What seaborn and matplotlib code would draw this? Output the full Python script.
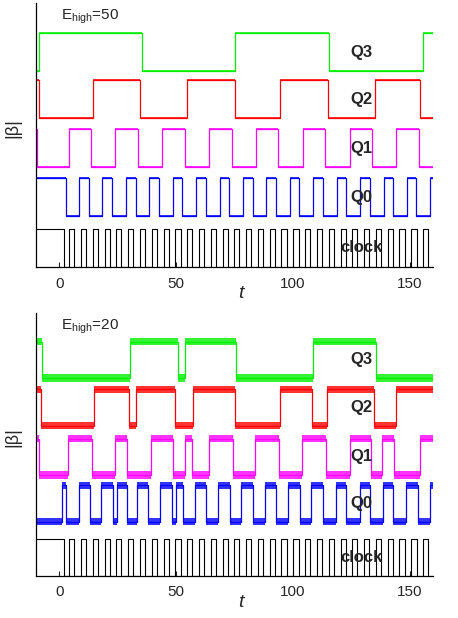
import pandas as pd
import seaborn as sns
import matplotlib.pyplot as plt

# --- Data: toggle times of each trace (t units) ---
T_START, T_END = -10, 160

# clock: high at start, falls once, then regular pulses
CLOCK_INIT = 1
CLOCK_FIRST_FALL = [2.1]
CLOCK_RISE = [4.2, 9.3, 14.3, 19.4, 24.4, 29.5, 34.5, 39.6, 44.6, 49.7, 54.7,
              59.8, 64.8, 69.9, 74.9, 80.0, 85.0, 90.1, 95.1, 100.2, 105.2,
              110.3, 115.3, 120.4, 125.4, 130.5, 135.5, 140.6, 145.6, 150.7, 155.7]
CLOCK_FALL = [6.4, 11.5, 16.5, 21.6, 26.6, 31.7, 36.7, 41.8, 46.8, 51.9, 56.9,
              62.0, 67.0, 72.1, 77.1, 82.2, 87.2, 92.3, 97.3, 102.4, 107.4,
              112.5, 117.5, 122.6, 127.6, 132.7, 137.7, 142.8, 147.8, 152.9, 157.9]

# E_high = 50
E50_INIT = {'Q0': 1, 'Q1': 1, 'Q2': 1, 'Q3': 0}
E50_Q0 = [2.9, 8.4, 12.5, 18.4, 22.5, 28.5, 32.6, 38.5, 42.6, 48.5, 52.6, 58.6,
          62.6, 68.6, 72.6, 78.6, 82.7, 88.6, 92.7, 98.7, 102.7, 108.7, 112.7,
          118.7, 122.7, 128.8, 132.8, 138.8, 142.8, 148.8, 152.8, 158.8]
E50_Q1 = [-9.6, 4.0, 13.6, 24.0, 33.7, 44.1, 53.7, 64.1, 73.8, 84.2, 93.8,
          104.2, 113.9, 124.3, 133.9, 144.3, 154.0]
E50_Q2 = [-8.9, 14.6, 34.6, 54.6, 75.0, 94.6, 115.0, 135.0, 154.6]
E50_Q3 = [-8.6, 35.3, 75.4, 115.4, 155.5]

# E_high = 20
E20_INIT = {'Q0': 0, 'Q1': 1, 'Q2': 1, 'Q3': 1}
E20_Q0 = [1.0, 2.9, 8.3, 13.1, 17.9, 23.1, 24.6, 28.9, 33.1, 38.1, 43.1, 48.1,
          50.0, 52.9, 58.1, 62.9, 67.9, 72.9, 77.9, 82.9, 87.9, 92.9, 97.9,
          102.9, 107.9, 112.9, 118.6, 122.9, 128.6, 132.9, 138.6, 142.9, 148.6,
          153.6, 158.6]
E20_Q1 = [-8.9, 3.8, 13.8, 24.0, 28.8, 39.3, 48.8, 53.8, 56.9, 64.0, 74.2, 83.8,
          94.0, 104.0, 114.0, 124.3, 133.5, 138.3, 143.3, 154.3]
E20_Q2 = [-7.9, 14.7, 29.7, 32.9, 49.6, 57.4, 75.0, 94.6, 108.3, 114.7, 134.6, 144.3]
E20_Q3 = [-7.6, 30.4, 50.7, 53.9, 75.7, 108.6, 135.4]

SIGNALS = ['clock', 'Q0', 'Q1', 'Q2', 'Q3']
COLORS = {'clock': 'black', 'Q0': '#0000ff', 'Q1': '#ff00ff',
          'Q2': '#ff0000', 'Q3': '#00f000'}

# --- Layout ---
FIG_SIZE = (4.58, 6.18)
DPI = 100
PANELS = [
    dict(title='50', edges={'Q0': E50_Q0, 'Q1': E50_Q1, 'Q2': E50_Q2, 'Q3': E50_Q3},
         init=E50_INIT, bases=[0, 1.34, 2.63, 3.92, 5.16], ytop=6.95, noise=0.035,
         rect=[0.0786, 0.568, 0.867, 0.427]),
    dict(title='20', edges={'Q0': E20_Q0, 'Q1': E20_Q1, 'Q2': E20_Q2, 'Q3': E20_Q3},
         init=E20_INIT, bases=[0, 1.48, 2.76, 4.11, 5.42], ytop=7.2, noise=0.1,
         rect=[0.0786, 0.0684, 0.867, 0.425]),
]
LABEL_T = 129.5


def step_trace(init, edges):
    """Turn an initial level and toggle times into step points."""
    ts = [T_START] + list(edges) + [T_END]
    levels = [init]
    for _ in edges:
        levels.append(1 - levels[-1])
    levels.append(levels[-1])
    return ts, levels


def build_frame(panel):
    rows = []
    clock_edges = sorted(CLOCK_FIRST_FALL + CLOCK_RISE + CLOCK_FALL)
    for sig, base in zip(SIGNALS, panel['bases']):
        if sig == 'clock':
            ts, lv = step_trace(CLOCK_INIT, clock_edges)
        else:
            ts, lv = step_trace(panel['init'][sig], panel['edges'][sig])
        for t, v in zip(ts, lv):
            rows.append({'signal': sig, 't': t, 'y': base + v})
    return pd.DataFrame(rows)


sns.set_style('white')
plt.rcParams['font.family'] = ['Liberation Sans', 'DejaVu Sans']
plt.rcParams['mathtext.fontset'] = 'custom'
plt.rcParams['mathtext.rm'] = 'Liberation Sans'
plt.rcParams['mathtext.it'] = 'Liberation Sans:italic'

fig = plt.figure(figsize=FIG_SIZE, dpi=DPI)

for panel in PANELS:
    ax = fig.add_axes(panel['rect'])
    df = build_frame(panel)

    # noise band around the coloured traces
    for sig in SIGNALS[1:]:
        d = df[df['signal'] == sig]
        ax.fill_between(d['t'], d['y'] - panel['noise'], d['y'] + panel['noise'],
                        step='post', color=COLORS[sig], alpha=0.8, lw=0)

    sns.lineplot(data=df[df['signal'] != 'clock'], x='t', y='y', hue='signal',
                 palette=COLORS, estimator=None, sort=False, drawstyle='steps-post',
                 legend=False, linewidth=0.9, ax=ax)
    sns.lineplot(data=df[df['signal'] == 'clock'], x='t', y='y', color='black',
                 estimator=None, sort=False, drawstyle='steps-post',
                 legend=False, linewidth=0.8, ax=ax)

    for sig, base in zip(SIGNALS, panel['bases']):
        ax.text(LABEL_T, base + 0.5, sig, ha='center', va='center',
                fontsize=12, fontweight='bold')

    ax.text(0.062, 0.936, r'E$_{\mathrm{high}}$=' + panel['title'],
            transform=ax.transAxes, fontsize=11, va='baseline')
    ax.text(-0.059, 0.528, '|β|', transform=ax.transAxes, rotation=90,
            ha='center', va='center', fontsize=13)

    ax.set_xlim(T_START, T_END)
    ax.set_ylim(0, panel['ytop'])
    ax.set_xticks([0, 50, 100, 150])
    ax.set_yticks([])
    ax.tick_params(axis='x', direction='in', length=3.5, width=0.8,
                   labelsize=11, pad=7, bottom=True)
    ax.set_xlabel('t', fontsize=14, style='italic')
    ax.xaxis.set_label_coords(0.515, -0.07)
    ax.set_ylabel('')
    sns.despine(ax=ax)
    for side in ['left', 'bottom']:
        ax.spines[side].set_color('black')
        ax.spines[side].set_linewidth(0.9)

fig.savefig('out.png', dpi=DPI)
